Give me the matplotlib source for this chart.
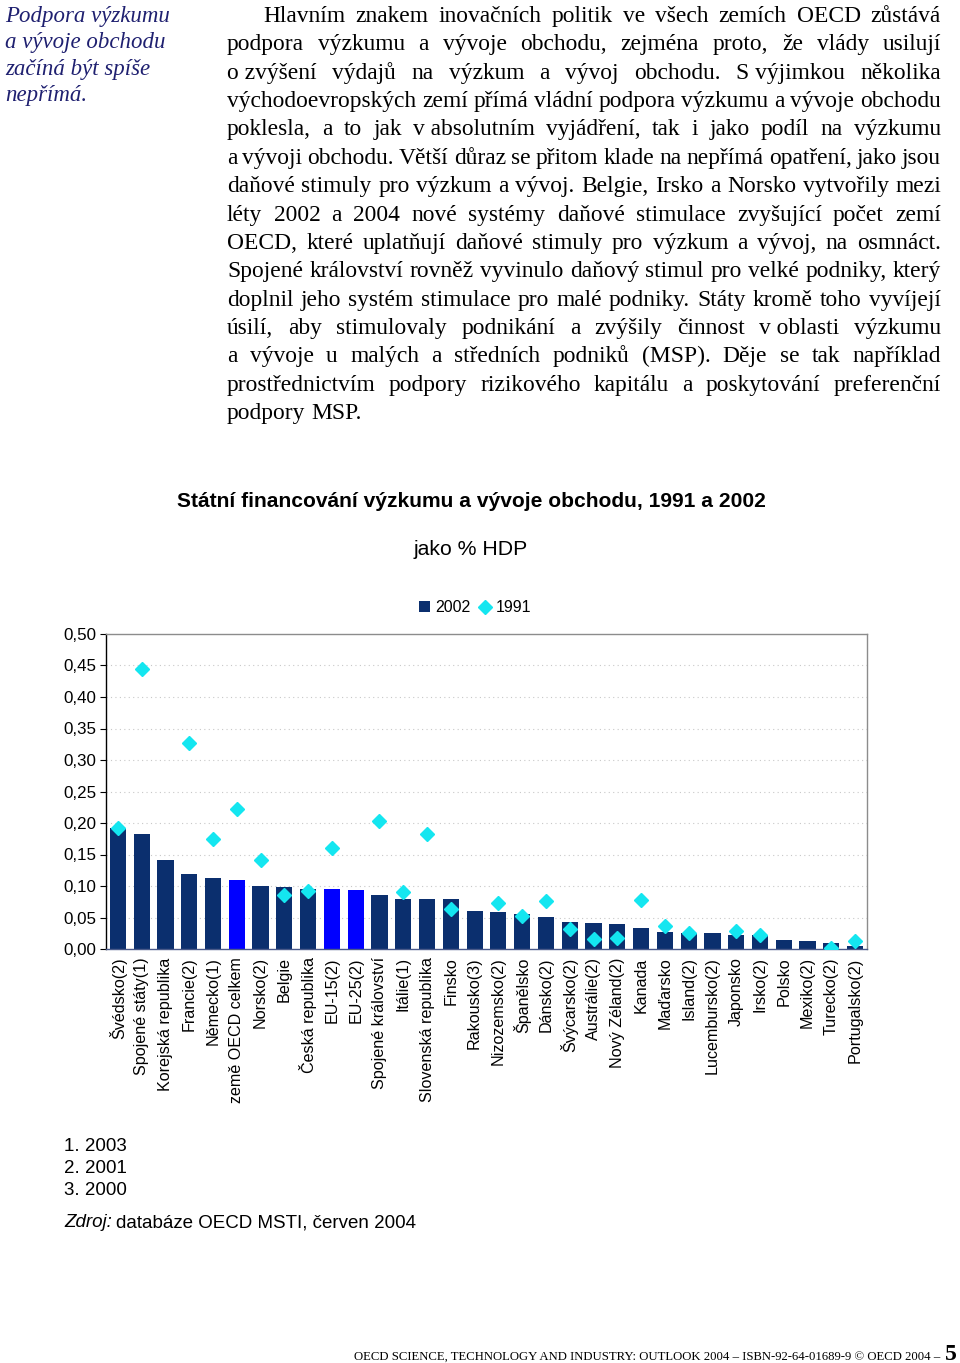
import numpy as np
import matplotlib
matplotlib.use('Agg')
import matplotlib.pyplot as plt

# --- data ---
countries = ['Švédsko(2)', 'Spojené státy(1)', 'Korejská republika', 'Francie(2)',
             'Německo(1)', 'země OECD celkem', 'Norsko(2)', 'Belgie',
             'Česká republika', 'EU-15(2)', 'EU-25(2)', 'Spojené království',
             'Itálie(1)', 'Slovenská republika', 'Finsko', 'Rakousko(3)',
             'Nizozemsko(2)', 'Španělsko', 'Dánsko(2)', 'Švýcarsko(2)',
             'Austrálie(2)', 'Nový Zéland(2)', 'Kanada', 'Maďarsko', 'Island(2)',
             'Lucembursko(2)', 'Japonsko', 'Irsko(2)', 'Polsko', 'Mexiko(2)',
             'Turecko(2)', 'Portugalsko(2)']
val_2002 = [0.192, 0.183, 0.141, 0.119, 0.112, 0.109, 0.100, 0.098,
            0.096, 0.095, 0.093, 0.086, 0.079, 0.079, 0.079, 0.060,
            0.058, 0.055, 0.051, 0.043, 0.041, 0.039, 0.034, 0.027, 0.026,
            0.026, 0.022, 0.022, 0.015, 0.012, 0.010, 0.005]
# NaN = no 1991 value shown
val_1991 = [0.192, 0.444, np.nan, 0.327, 0.175, 0.222, 0.142, 0.085,
            0.092, 0.161, np.nan, 0.203, 0.090, 0.182, 0.063, np.nan,
            0.073, 0.052, 0.076, 0.031, 0.016, 0.018, 0.078, 0.036, 0.026,
            np.nan, 0.029, 0.022, np.nan, np.nan, 0.001, 0.013]
aggregates = ['země OECD celkem', 'EU-15(2)', 'EU-25(2)']
yticks = [0.0, 0.05, 0.10, 0.15, 0.20, 0.25, 0.30, 0.35, 0.40, 0.45, 0.50]

sidebar = ['Podpora výzkumu', 'a vývoje obchodu', 'začíná být spíše', 'nepřímá.']
paragraph = [
    'Hlavním znakem inovačních politik ve všech zemích OECD zůstává',
    'podpora výzkumu a vývoje obchodu, zejména proto, že vlády usilují',
    'o\u00a0zvýšení výdajů na výzkum a vývoj obchodu. S\u00a0výjimkou několika',
    'východoevropských zemí přímá vládní podpora výzkumu a vývoje obchodu',
    'poklesla, a to jak v\u00a0absolutním vyjádření, tak i jako podíl na výzkumu',
    'a vývoji obchodu. Větší důraz se přitom klade na nepřímá opatření, jako jsou',
    'daňové stimuly pro výzkum a vývoj. Belgie, Irsko a Norsko vytvořily mezi',
    'léty 2002 a 2004 nové systémy daňové stimulace zvyšující počet zemí',
    'OECD, které uplatňují daňové stimuly pro výzkum a vývoj, na osmnáct.',
    'Spojené království rovněž vyvinulo daňový stimul pro velké podniky, který',
    'doplnil jeho systém stimulace pro malé podniky. Státy kromě toho vyvíjejí',
    'úsilí, aby stimulovaly podnikání a zvýšily činnost v\u00a0oblasti výzkumu',
    'a vývoje u malých a středních podniků (MSP). Děje se tak například',
    'prostřednictvím podpory rizikového kapitálu a poskytování preferenční',
    'podpory MSP.',
]
footnotes = ['1. 2003', '2. 2001', '3. 2000']

W, H = 960, 1363
fig = plt.figure(figsize=(W / 100, H / 100), dpi=100)
renderer = fig.canvas.get_renderer()


def fx(x):
    return x / W


def fy(y):
    return 1 - y / H


serif = ['Liberation Serif', 'DejaVu Serif']
sans = ['Liberation Sans', 'DejaVu Sans']

# sidebar (italic, navy)
for i, line in enumerate(sidebar):
    fig.text(fx(5), fy(22 + i * 26.3), line, family=serif, style='italic',
             fontsize=16.5, color='#1f2070', va='baseline')

# justified paragraph
p_size = 16.9
x_left, x_right = 227, 941
for i, line in enumerate(paragraph):
    y = fy(22 + i * 28.36)
    words = line.split(' ')
    start = 263 if i == 0 else x_left
    texts = [fig.text(0, y, w.replace('\u00a0', ' '), family=serif,
                      fontsize=p_size, va='baseline') for w in words]
    widths = [t.get_window_extent(renderer).width for t in texts]
    if i == len(paragraph) - 1:
        space = fig.text(0, 0, 'a a', family=serif, fontsize=p_size)
        sw = space.get_window_extent(renderer).width
        space.remove()
        a = fig.text(0, 0, 'aa', family=serif, fontsize=p_size)
        gap = sw - a.get_window_extent(renderer).width
        a.remove()
    else:
        gap = (x_right - start - sum(widths)) / (len(words) - 1)
    x = start
    for t, wd in zip(texts, widths):
        t.set_x(fx(x))
        x += wd + gap

# chart titles
fig.text(fx(471), fy(507), 'Státní financování výzkumu a vývoje obchodu, 1991 a 2002',
         family=sans, fontsize=15.1, fontweight='bold', ha='center', va='baseline')
fig.text(fx(471), fy(555), 'jako % HDP', family=sans, fontsize=15.3,
         ha='center', va='baseline')

# chart
ax = fig.add_axes([fx(106), fy(949), fx(867) - fx(106), (949 - 634) / H])
x = np.arange(len(countries))
colors = ['#0000ff' if c in aggregates else '#0b2f6e' for c in countries]
bars = ax.bar(x, val_2002, width=0.68, color=colors, zorder=2, label='2002')
bars.patches[0].set_facecolor('#0b2f6e')
dots, = ax.plot(x, val_1991, linestyle='none', marker='D', markersize=7.5,
                color='#14e6f0', zorder=3, label='1991')

ax.set_xlim(-0.5, len(countries) - 0.5)
ax.set_ylim(0, 0.5)
ax.set_yticks(yticks)
ax.set_yticklabels([f'{v:.2f}'.replace('.', ',') for v in yticks],
                   family=sans, fontsize=12.2)
ax.set_xticks(x)
ax.set_xticklabels(countries, rotation=90, family=sans, fontsize=11.6,
                   ha='center', va='top')
ax.tick_params(axis='x', length=0, pad=6)
ax.tick_params(axis='y', length=4, width=0.8, direction='out', pad=3)
for yv in yticks[1:-1]:
    ax.axhline(yv, color='#c8c8c8', linestyle=(0, (1, 3)), linewidth=0.8, zorder=1)
ax.spines['left'].set_color('black')
ax.spines['bottom'].set_color('#4a5a8a')
ax.spines['top'].set_color('#8c8c8c')
ax.spines['right'].set_color('#8c8c8c')
for s in ax.spines.values():
    s.set_linewidth(1.0)

ax.legend(handles=[bars, dots], labels=['2002', '1991'], ncol=2, loc='center',
          bbox_to_anchor=((475 - 106) / 761, 1 + (634 - 608) / 315),
          frameon=False, prop={'family': sans, 'size': 11.5}, handlelength=0.7,
          handleheight=0.7, handletextpad=0.3, columnspacing=0.6, borderaxespad=0)

# footnotes and source
for i, fn in enumerate(footnotes):
    fig.text(fx(64), fy(1151 + i * 22), fn, family=sans, fontsize=13.5, va='baseline')
src = fig.text(fx(64), fy(1227), 'Zdroj:', family=sans, fontsize=13.5,
               style='italic', va='baseline')
sw = src.get_window_extent(renderer).width
fig.text(fx(64 + sw + 4), fy(1227), 'databáze OECD MSTI, červen 2004', family=sans,
         fontsize=13.5, va='baseline')

# page footer
fig.text(fx(943), fy(1360), 'OECD SCIENCE, TECHNOLOGY AND INDUSTRY: OUTLOOK 2004 – '
         'ISBN-92-64-01689-9 © OECD 2004 – ', family=serif, fontsize=9.2,
         ha='right', va='baseline')
fig.text(fx(945), fy(1360), '5', family=serif, fontsize=17, fontweight='bold',
         va='baseline')

fig.savefig('out.png', dpi=100)
